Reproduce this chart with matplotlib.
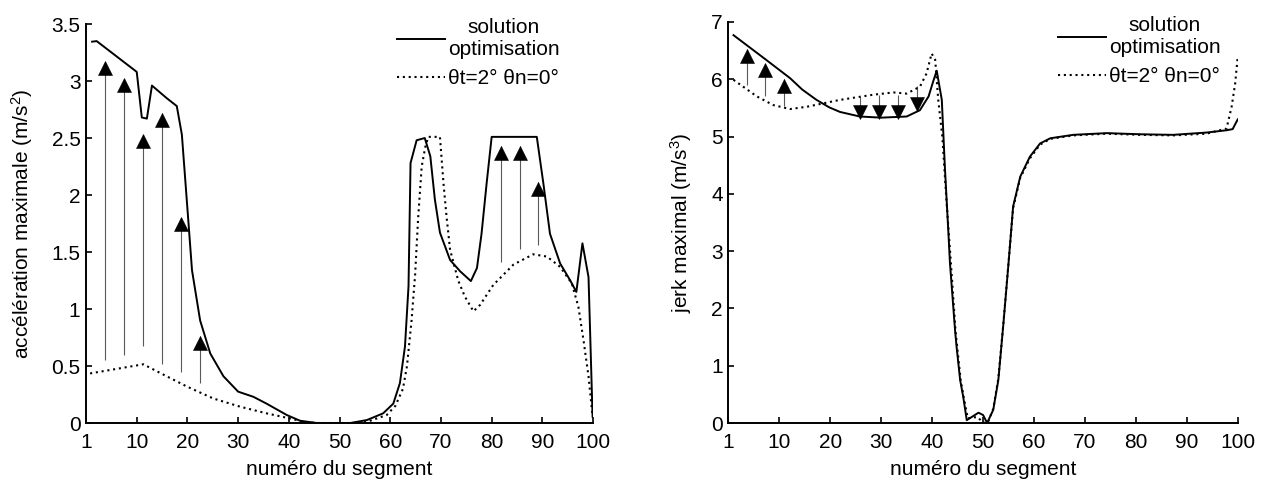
import matplotlib
matplotlib.use("Agg")
import matplotlib.pyplot as plt
from matplotlib.ticker import FuncFormatter
from matplotlib.transforms import offset_copy

plt.rcParams["font.family"] = ["Liberation Sans", "DejaVu Sans"]
plt.rcParams["font.size"] = 15

# ---- maximum acceleration per segment ----
acc_opt_x = [1.2, 2.1, 10.0, 11.0, 12.0, 13.0, 15.9, 17.9, 18.9, 20.3, 20.9, 22.5,
             24.5, 27.1, 30.0, 33.0, 35.6, 39.6, 42.2, 45.5, 52.1, 55.4, 58.6, 60.6,
             61.9, 62.9, 63.6, 64.0, 65.2, 66.8, 67.9, 68.8, 69.8, 71.8, 73.8, 75.9,
             77.1, 78.0, 79.0, 80.0, 88.9, 90.2, 91.5, 93.5, 95.5, 96.7, 97.9, 99.1, 99.9]
acc_opt_y = [3.345, 3.35, 3.08, 2.68, 2.67, 2.96, 2.85, 2.78, 2.53, 1.70, 1.34, 0.90,
             0.61, 0.41, 0.275, 0.23, 0.17, 0.07, 0.02, 0.0, 0.0, 0.026, 0.085, 0.17,
             0.35, 0.67, 1.20, 2.28, 2.48, 2.50, 2.34, 1.96, 1.67, 1.43, 1.33, 1.245,
             1.36, 1.66, 2.10, 2.51, 2.51, 2.10, 1.66, 1.40, 1.25, 1.15, 1.576, 1.28, 0.055]

acc_ref_x = [0.8, 11.3, 15.9, 19.9, 25.1, 30.4, 35.6, 40.2, 43.5, 46.0, 54.0, 55.4,
             59.3, 61.0, 62.5, 63.3, 64.2, 64.9, 65.5, 66.2, 66.9, 67.5, 69.8, 70.5,
             71.1, 71.8, 73.4, 74.7, 76.4, 77.7, 80.3, 84.3, 88.2, 90.9, 93.5, 95.8,
             97.1, 98.1, 99.1, 99.9]
acc_ref_y = [0.435, 0.515, 0.41, 0.32, 0.215, 0.143, 0.085, 0.04, 0.005, 0.0, 0.0, 0.01,
             0.07, 0.15, 0.30, 0.50, 0.90, 1.30, 1.80, 2.25, 2.42, 2.51, 2.51, 2.10,
             1.81, 1.52, 1.25, 1.11, 0.98, 1.035, 1.21, 1.39, 1.48, 1.46, 1.37, 1.225,
             1.02, 0.73, 0.41, 0.06]

acc_arrow_x = [3.75, 7.5, 11.25, 15.0, 18.75, 22.5, 81.8, 85.5, 89.2]
acc_arrow_from = [0.55, 0.60, 0.675, 0.52, 0.45, 0.35, 1.415, 1.53, 1.56]
acc_arrow_to = [3.17, 3.02, 2.53, 2.72, 1.80, 0.76, 2.43, 2.43, 2.11]

# ---- maximum jerk per segment ----
jerk_opt_x = [1.0, 7.25, 12.1, 14.5, 17.3, 19.8, 21.9, 25.8, 30.0, 35.0, 37.6, 39.3,
              40.2, 40.9, 41.9, 42.5, 43.2, 43.5, 44.5, 44.8, 45.5, 46.1, 46.8, 49.1,
              50.0, 50.8, 52.0, 53.0, 54.0, 55.0, 55.9, 57.3, 59.2, 61.2, 63.2, 67.7,
              74.3, 80.8, 87.3, 93.9, 97.8, 99.0, 100.0]
jerk_opt_y = [6.77, 6.35, 6.02, 5.82, 5.64, 5.51, 5.43, 5.35, 5.33, 5.35, 5.46, 5.70,
              5.96, 6.15, 5.64, 4.47, 3.31, 2.79, 1.62, 1.33, 0.75, 0.46, 0.05, 0.18,
              0.14, 0.0, 0.23, 0.75, 1.74, 2.79, 3.78, 4.30, 4.65, 4.88, 4.97, 5.03,
              5.06, 5.04, 5.03, 5.07, 5.11, 5.13, 5.30]

jerk_ref_x = [1.0, 5.6, 8.8, 12.1, 15.4, 21.9, 28.4, 32.4, 35.0, 37.6, 38.9, 39.9,
              40.6, 41.2, 42.0, 42.8, 43.6, 44.6, 45.6, 46.2, 47.0, 48.0, 49.0, 50.0,
              51.0, 52.0, 53.0, 54.0, 55.0, 55.9, 57.3, 59.2, 61.2, 63.2, 67.7, 74.3,
              80.8, 87.3, 93.9, 97.8, 98.8, 99.5, 100.0]
jerk_ref_y = [5.99, 5.70, 5.55, 5.48, 5.52, 5.64, 5.73, 5.77, 5.75, 5.87, 6.10, 6.45,
              6.34, 5.64, 5.00, 3.90, 2.90, 1.60, 0.75, 0.45, 0.08, 0.10, 0.10, 0.0,
              0.02, 0.25, 0.78, 1.75, 2.80, 3.75, 4.28, 4.62, 4.86, 4.96, 5.02, 5.05,
              5.03, 5.02, 5.05, 5.14, 5.52, 5.93, 6.39]

jerk_up_x = [3.6, 7.25, 11.0]
jerk_up_from = [5.90, 5.70, 5.53]
jerk_up_to = [6.52, 6.27, 6.00]
jerk_down_x = [25.8, 29.5, 33.3, 37.1]
jerk_down_from = [5.69, 5.73, 5.73, 5.88]
jerk_down_to = [5.32, 5.32, 5.32, 5.46]

x_ticks = [0, 10, 20, 30, 40, 50, 60, 70, 80, 90, 100]
x_tick_labels = ["1", "10", "20", "30", "40", "50", "60", "70", "80", "90", "100"]

series_labels = ["solution\noptimisation", "θt=2° θn=0°"]

HEAD = 9.6  # arrow head size in points


def arrows(ax, xs, starts, ends, up=True):
    ax.vlines(xs, starts, ends, colors="0.35", lw=0.8, zorder=2)
    shift = -HEAD / 2 if up else HEAD / 2
    tr = offset_copy(ax.transData, fig=ax.figure, y=shift, units="points")
    ax.plot(xs, ends, linestyle="none", marker="^" if up else "v", ms=HEAD,
            mfc="black", mec="black", mew=0.4, transform=tr, zorder=3)


def style(ax, ymax, ystep, ylabel):
    ax.set_xlim(0, 100)
    ax.set_ylim(0, ymax)
    ax.set_xticks(x_ticks)
    ax.set_xticklabels(x_tick_labels)
    ax.set_yticks([i * ystep for i in range(int(round(ymax / ystep)) + 1)])
    ax.yaxis.set_major_formatter(FuncFormatter(lambda v, p: "%g" % v))
    for s in ("top", "right"):
        ax.spines[s].set_visible(False)
    for s in ("left", "bottom"):
        ax.spines[s].set_linewidth(1.4)
    ax.tick_params(direction="in", length=4, width=1.2, labelsize=15)
    ax.tick_params(axis="x", pad=7)
    ax.tick_params(axis="y", pad=4)
    ax.set_xlabel("numéro du segment", labelpad=6)
    ax.set_ylabel(ylabel, labelpad=12)


def legend(ax, handles, x0):
    leg = ax.legend(handles, series_labels, loc="upper left",
                    bbox_to_anchor=(x0, 1.014), frameon=False, handlelength=2.3,
                    handletextpad=0.15, borderpad=0, borderaxespad=0,
                    labelspacing=0.5)
    for t in leg.get_texts():
        t.set_multialignment("center")
        t.set_linespacing(1.15)


fig = plt.figure(figsize=(12.67, 4.83), dpi=100)
ax1 = fig.add_axes([0.0679, 0.1242, 0.4002, 0.8261])
ax2 = fig.add_axes([0.5749, 0.1242, 0.4020, 0.8303])

dots = (0, (1, 1.8))

l1, = ax1.plot(acc_opt_x, acc_opt_y, color="black", lw=1.4, zorder=4)
l2, = ax1.plot(acc_ref_x, acc_ref_y, color="black", lw=1.5, linestyle=dots, zorder=4)
arrows(ax1, acc_arrow_x, acc_arrow_from, acc_arrow_to, up=True)
style(ax1, 3.5, 0.5, "accélération maximale (m/s$\\mathregular{^2}$)")
legend(ax1, [l1, l2], 0.613)

r1, = ax2.plot(jerk_opt_x, jerk_opt_y, color="black", lw=1.4, zorder=4)
r2, = ax2.plot(jerk_ref_x, jerk_ref_y, color="black", lw=1.5, linestyle=dots, zorder=4)
arrows(ax2, jerk_up_x, jerk_up_from, jerk_up_to, up=True)
arrows(ax2, jerk_down_x, jerk_down_from, jerk_down_to, up=False)
style(ax2, 7, 1, "jerk maximal (m/s$\\mathregular{^3}$)")
legend(ax2, [r1, r2], 0.647)

fig.savefig("out.png", dpi=100)
